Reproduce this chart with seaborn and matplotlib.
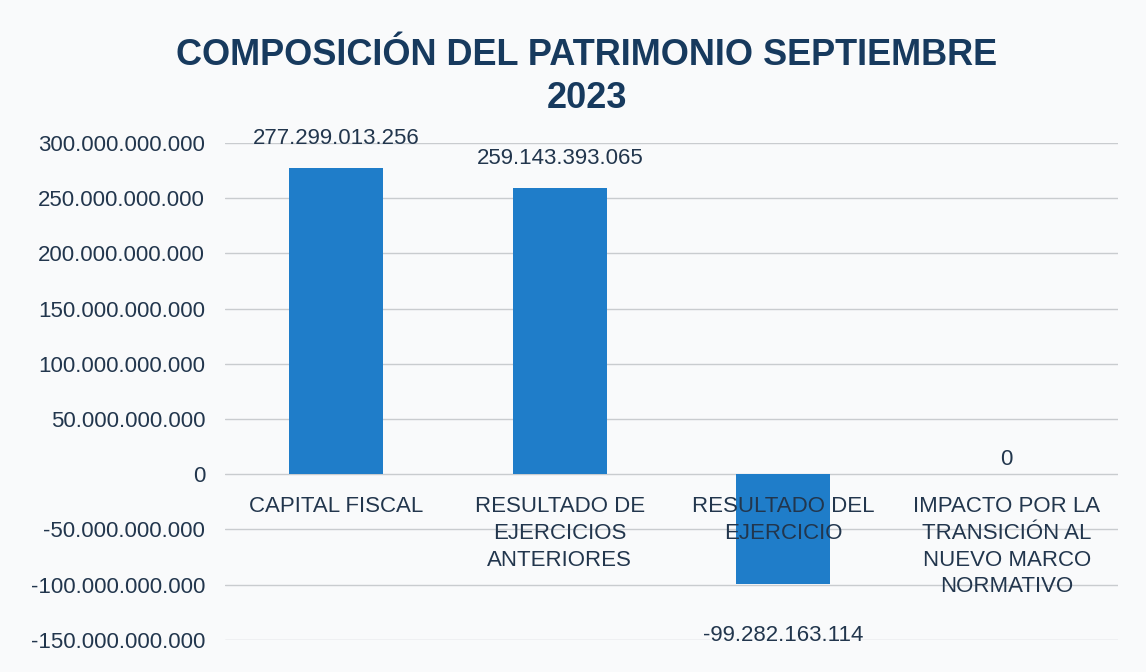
import matplotlib
matplotlib.use("Agg")
import matplotlib.pyplot as plt
import seaborn as sns
import pandas as pd

# datos del gráfico
categorias = [
    "CAPITAL FISCAL",
    "RESULTADO DE\nEJERCICIOS\nANTERIORES",
    "RESULTADO DEL\nEJERCICIO",
    "IMPACTO POR LA\nTRANSICIÓN AL\nNUEVO MARCO\nNORMATIVO",
]
valores = [277299013256, 259143393065, -99282163114, 0]
etiquetas_valor = ["277.299.013.256", "259.143.393.065", "-99.282.163.114", "0"]
ticks_y = [-150e9, -100e9, -50e9, 0, 50e9, 100e9, 150e9, 200e9, 250e9, 300e9]
etiquetas_y = ["-150.000.000.000", "-100.000.000.000", "-50.000.000.000", "0",
               "50.000.000.000", "100.000.000.000", "150.000.000.000",
               "200.000.000.000", "250.000.000.000", "300.000.000.000"]

sns.set_style("white")
plt.rcParams["font.family"] = ["Liberation Sans", "DejaVu Sans"]

texto = "#22364d"
azul = "#1f7dc9"

df = pd.DataFrame({"Categoria": categorias, "Valor": valores})

fig = plt.figure(figsize=(11.46, 6.72), dpi=100, facecolor="#f9fafb")
ax = fig.add_axes([0.196, 0.048, 0.78, 0.739])
ax.set_facecolor("#f9fafb")

# líneas de cuadrícula debajo de las barras
for t in ticks_y:
    ax.axhline(t, color="#c9cccf", linewidth=1, zorder=0)

sns.barplot(data=df, x="Categoria", y="Valor", color=azul, saturation=1,
            width=0.42, ax=ax, zorder=1, linewidth=0)

ax.set_ylim(-150e9, 300e9)
ax.set_yticks(ticks_y)
ax.set_yticklabels(etiquetas_y, fontsize=16, color=texto)
ax.tick_params(axis="y", length=0, pad=14)
ax.set_axisbelow(False)

ax.spines["bottom"].set_position(("data", 0))
ax.spines["bottom"].set_color("none")
for lado in ["left", "right", "top"]:
    ax.spines[lado].set_visible(False)
ax.tick_params(axis="x", length=0, pad=16)
ax.set_xticks(range(len(categorias)))
ax.set_xticklabels(categorias, fontsize=16, color=texto, linespacing=1.35)
ax.set_xlabel("")
ax.set_ylabel("")

# etiquetas de datos
for i, (v, et) in enumerate(zip(valores, etiquetas_valor)):
    if v < 0:
        ax.annotate(et, (i, v), xytext=(0, -30), textcoords="offset points",
                    ha="center", va="top", fontsize=16, color=texto)
    else:
        ax.annotate(et, (i, v), xytext=(0, 14 if v > 0 else 3),
                    textcoords="offset points", ha="center", va="bottom",
                    fontsize=16, color=texto)

fig.text(0.512, 0.885, "COMPOSICIÓN DEL PATRIMONIO SEPTIEMBRE\n2023",
         ha="center", va="center", fontsize=26, fontweight="bold",
         color="#173a5e", linespacing=1.3)

fig.savefig("out.png", dpi=100, facecolor=fig.get_facecolor())
